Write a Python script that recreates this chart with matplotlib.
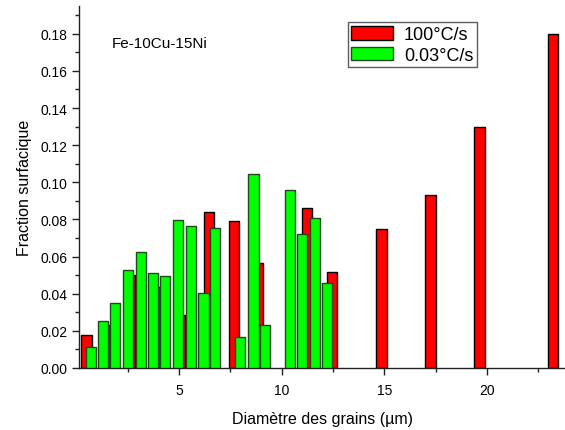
import matplotlib
matplotlib.use("Agg")
import matplotlib.pyplot as plt
from matplotlib.ticker import MultipleLocator, FormatStrFormatter

plt.rcParams['font.family'] = ['Liberation Sans', 'DejaVu Sans']

# 100 °C/s (rouge)
red_x = [0.49, 1.40, 2.61, 3.81, 5.05, 6.47, 7.69, 8.83, 11.24, 12.46, 14.86, 17.25, 19.64, 23.2]
red_y = [0.0178, 0.023, 0.050, 0.0435, 0.0286, 0.0839, 0.0794, 0.0564, 0.0862, 0.0516,
         0.0749, 0.0934, 0.130, 0.180]

# 0.03 °C/s (vert)
green_x = [0.71, 1.30, 1.89, 2.52, 3.15, 3.74, 4.32, 4.96, 5.59, 6.19, 6.76,
           7.98, 8.62, 9.20, 10.42, 11.00, 11.63, 12.22]
green_y = [0.0111, 0.0252, 0.0349, 0.0528, 0.0623, 0.051, 0.0496, 0.0798, 0.0767, 0.0402,
           0.0756, 0.0169, 0.1047, 0.0233, 0.0961, 0.0722, 0.0805, 0.046]

fig = plt.figure(figsize=(5.65, 4.31), dpi=100)
ax = fig.add_axes([0.140, 0.144, 0.860, 0.840])

ax.bar(red_x, red_y, width=0.5, color='#ff0000', edgecolor='black', linewidth=1.0,
       label='100°C/s', zorder=2)
ax.bar(green_x, green_y, width=0.5, color='#00ff00', edgecolor='#1e4a1e', linewidth=1.0,
       label='0.03°C/s', zorder=3)

ax.set_xlim(0.13, 23.8)
ax.set_ylim(0, 0.195)

ax.xaxis.set_major_locator(MultipleLocator(5))
ax.xaxis.set_minor_locator(MultipleLocator(2.5))
ax.yaxis.set_major_locator(MultipleLocator(0.02))
ax.yaxis.set_minor_locator(MultipleLocator(0.01))
ax.yaxis.set_major_formatter(FormatStrFormatter('%.2f'))

ax.spines['top'].set_visible(False)
ax.spines['right'].set_visible(False)
for s in ('left', 'bottom'):
    ax.spines[s].set_linewidth(1.0)
    ax.spines[s].set_color('#222222')

ax.tick_params(which='major', direction='out', length=5, width=1, labelsize=10, color='#222222')
ax.tick_params(which='minor', direction='out', length=3, width=1, color='#222222')
ax.tick_params(axis='x', pad=6)

ax.set_xlabel('Diamètre des grains (µm)', fontsize=11.5, labelpad=10)
ax.set_ylabel('Fraction surfacique', fontsize=11.5, labelpad=6)

ax.text(1.7, 0.175, 'Fe-10Cu-15Ni', fontsize=11, va='center', ha='left')

leg = ax.legend(loc='upper left', bbox_to_anchor=(0.553, 0.955), fontsize=13,
                frameon=True, fancybox=False, handlelength=2.3, handleheight=0.8,
                handletextpad=0.6, borderpad=0.2, labelspacing=0.2, borderaxespad=0)
leg.get_frame().set_edgecolor('#333333')
leg.get_frame().set_linewidth(1.0)

fig.savefig('out.png', dpi=100)
